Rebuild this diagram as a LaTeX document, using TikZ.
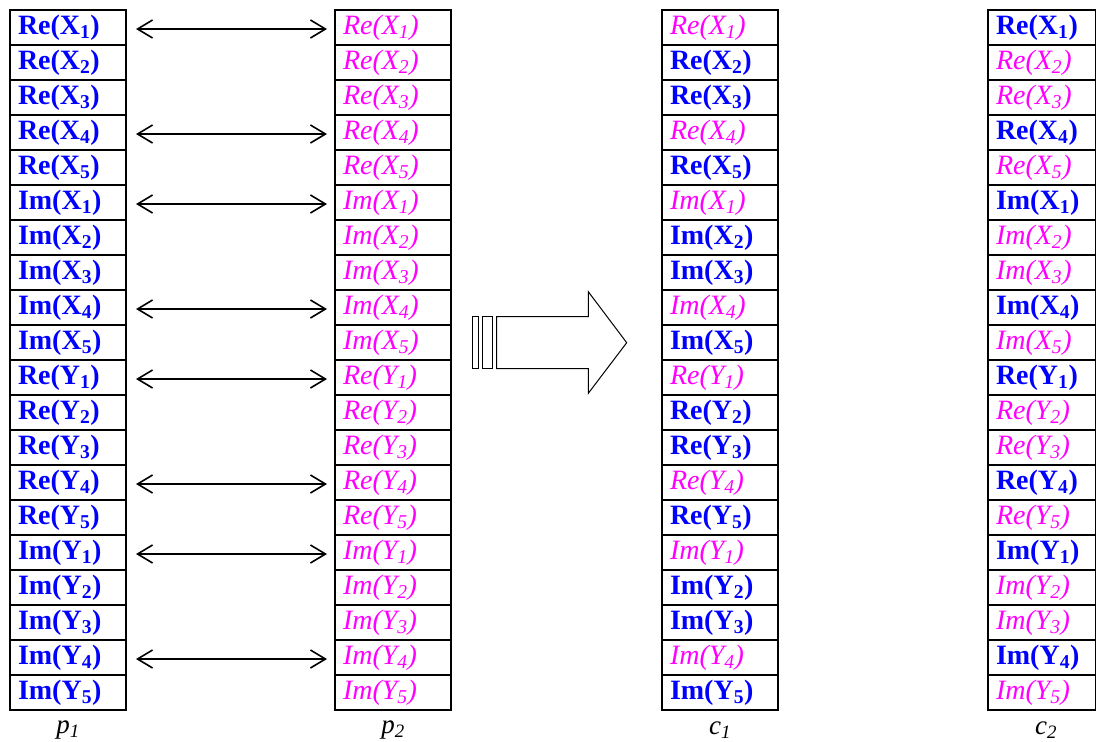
\documentclass[tikz,border=0pt]{standalone}
\usepackage{fontspec}
\setmainfont{Liberation Serif}
\usetikzlibrary{arrows.meta}
\definecolor{cellblue}{RGB}{0,0,255}
\definecolor{cellpink}{RGB}{255,0,255}
\newcommand{\bval}[3]{\textcolor{cellblue}{\bfseries #1(#2\textsubscript{#3})}}
\newcommand{\ival}[3]{\textcolor{cellpink}{\itshape #1(#2\textsubscript{#3})}}
\begin{document}
\begin{tikzpicture}[x=1pt,y=-1pt,
  cell/.style={draw,line width=2pt,anchor=north west,minimum height=35pt,inner xsep=8pt,inner ysep=0pt,text width=100pt,align=left,text height=19pt,text depth=6pt,font=\fontsize{28}{32}\selectfont},
  narrow/.style={text width=92pt},
  swap/.style={{Straight Barb[length=15pt,width=18pt]}-{Straight Barb[length=15pt,width=18pt]},line width=1.6pt,shorten <=9pt,shorten >=7pt},
  tag/.style={font=\fontsize{27}{31}\selectfont\itshape}]
\useasboundingbox (0,0) rectangle (1096,742);
% four columns of 20 cells
\foreach \sig [count=\si from 0] in {X,Y}
 \foreach \cmp [count=\cj from 0] in {Re,Im}
  \foreach \idx in {1,...,5}{
   \pgfmathtruncatemacro{\row}{\si*10+\cj*5+\idx}
   \pgfmathsetmacro{\ytop}{9+(\row-1)*35}
   \pgfmathtruncatemacro{\sw}{(\idx==1)||(\idx==4)}
   \node[cell] (p1-\row) at (9,\ytop) {\bval{\cmp}{\sig}{\idx}};
   \node[cell] (p2-\row) at (334,\ytop) {\ival{\cmp}{\sig}{\idx}};
   \ifnum\sw=1
    \node[cell] (c1-\row) at (661,\ytop) {\ival{\cmp}{\sig}{\idx}};
    \node[cell,narrow] (c2-\row) at (987,\ytop) {\bval{\cmp}{\sig}{\idx}};
   \else
    \node[cell] (c1-\row) at (661,\ytop) {\bval{\cmp}{\sig}{\idx}};
    \node[cell,narrow] (c2-\row) at (987,\ytop) {\ival{\cmp}{\sig}{\idx}};
   \fi
  }
% exchanged positions
\foreach \row in {1,4,6,9,11,14,16,19}
 \draw[swap] ([yshift=-1.5pt]p1-\row.east) -- ([yshift=-1.5pt]p2-\row.west);
% big hollow arrow
\draw[line width=1pt] (472.7,316.7) rectangle (478.7,368.7);
\draw[line width=1pt] (482.3,316.7) rectangle (492.3,368.7);
\draw[line width=1pt] (496.7,316.7) -- (588.3,316.7) -- (588.3,291.7) -- (626.7,342.7)
  -- (588.3,393.3) -- (588.3,368.7) -- (496.7,368.7) -- cycle;
% column names
\node[tag] (lab-p1) at ([yshift=-19pt]p1-20.south) {p\textsubscript{1}};
\node[tag] (lab-p2) at ([yshift=-19pt]p2-20.south) {p\textsubscript{2}};
\node[tag] (lab-c1) at ([yshift=-19pt]c1-20.south) {c\textsubscript{1}};
\node[tag] (lab-c2) at ([yshift=-19pt,xshift=4pt]c2-20.south) {c\textsubscript{2}};
\end{tikzpicture}
\end{document}
